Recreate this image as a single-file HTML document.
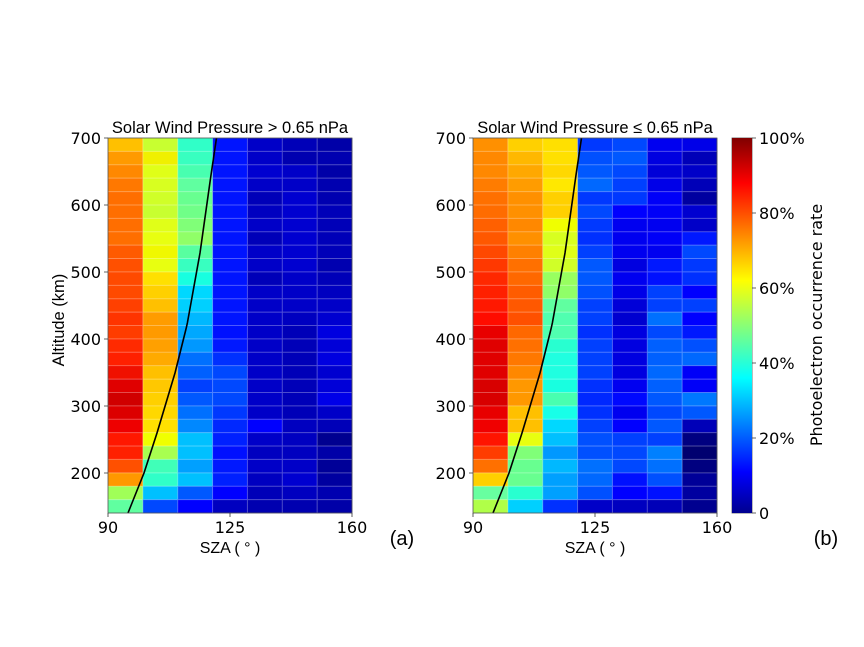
<!DOCTYPE html>
<html><head><meta charset="utf-8"><style>body{margin:0;background:#fff}svg{display:block}</style></head>
<body>
<svg id="s" width="864" height="647" xmlns="http://www.w3.org/2000/svg" font-family="DejaVu Sans, sans-serif">
<defs>
<linearGradient id="jet" x1="0" y1="1" x2="0" y2="0">
<stop offset="0" stop-color="#00008F"/><stop offset="0.11" stop-color="#0000FF"/><stop offset="0.36" stop-color="#00FFFF"/><stop offset="0.62" stop-color="#FFFF00"/><stop offset="0.88" stop-color="#FF0000"/><stop offset="1" stop-color="#800000"/>
</linearGradient>
</defs>
<g id="L"></g><g id="R"></g>
<path id="c1" fill="none" stroke="#000" stroke-width="1.6"/>
<path id="c2" fill="none" stroke="#000" stroke-width="1.6"/>
<g fill="none" stroke="#555" stroke-width="0.8">
<rect x="108" y="138" width="244" height="375"/><rect x="473" y="138" width="244" height="375"/><rect x="732" y="138" width="20" height="375"/>
</g>
<rect x="732" y="138" width="20" height="375" fill="url(#jet)"/>
<g stroke="#333" stroke-width="0.8">
<path d="M104,138h4M104,205h4M104,272h4M104,339h4M104,406h4M104,473h4M108,513v4M230,513v4M352,513v4"/>
<path d="M469,138h4M469,205h4M469,272h4M469,339h4M469,406h4M469,473h4M473,513v4M595,513v4M717,513v4"/>
<path d="M752,138h4M752,213h4M752,288h4M752,363h4M752,438h4M752,513h4"/>
</g>
<g font-size="16" fill="#000" text-anchor="end">
<text x="101" y="144">700</text><text x="101" y="211">600</text><text x="101" y="278">500</text><text x="101" y="345">400</text><text x="101" y="412">300</text><text x="101" y="479">200</text>
<text x="466" y="144">700</text><text x="466" y="211">600</text><text x="466" y="278">500</text><text x="466" y="345">400</text><text x="466" y="412">300</text><text x="466" y="479">200</text>
</g>
<g font-size="16" fill="#000" text-anchor="middle">
<text x="108" y="533">90</text><text x="230" y="533">125</text><text x="352" y="533">160</text>
<text x="473" y="533">90</text><text x="595" y="533">125</text><text x="717" y="533">160</text>
<text x="230" y="553" font-family="Liberation Sans, sans-serif" font-size="16">SZA ( ° )</text>
<text x="595" y="553" font-family="Liberation Sans, sans-serif" font-size="16">SZA ( ° )</text>
<text x="230" y="133" font-family="Liberation Sans, sans-serif" font-size="16.5">Solar Wind Pressure &gt; 0.65 nPa</text>
<text x="595" y="133" font-family="Liberation Sans, sans-serif" font-size="16.5">Solar Wind Pressure  ≤  0.65 nPa</text>
</g>
<text x="64" y="320" font-family="Liberation Sans, sans-serif" font-size="16.5" text-anchor="middle" transform="rotate(-90 64 320)">Altitude (km)</text>
<g font-size="16" fill="#000">
<text x="759" y="144">100%</text><text x="759" y="219">80%</text><text x="759" y="294">60%</text><text x="759" y="369">40%</text><text x="759" y="444">20%</text><text x="759" y="519">0</text>
</g>
<text x="822" y="325" font-size="16" text-anchor="middle" transform="rotate(-90 822 325)">Photoelectron occurrence rate</text>
<text x="402" y="545" font-family="Liberation Sans, sans-serif" font-size="20" text-anchor="middle">(a)</text>
<text x="826" y="545" font-family="Liberation Sans, sans-serif" font-size="20" text-anchor="middle">(b)</text>
</svg>
<script>
var Lc=[
"FFC000 FF9A00 FF8800 FF7800 FF6E00 FF6E00 FF6E00 FF6E00 FF5A00 FF5000 FF4A00 FF4A00 FF4000 FF3400 FF3C00 FF2A00 FF2000 F01000 E00000 D00000 DC0000 EE0000 FF1800 FF2000 FF5000 FF9800 A0FF58 60FFA0",
"C8FF30 F0F000 E0FF18 D8FF20 D0FF28 C8FF30 E0FF18 E8FF10 F0F800 E8FF10 FFE000 FFD000 FFC000 FF9C00 FF9A00 FFA000 FFAA00 FFC000 FFC800 FFD000 FFD800 FFE000 F0FF00 A8FF50 40FFB8 30FFC8 00C0FF 0048FF",
"30FFC8 38FFC0 48FFB0 60FFA0 68FF90 70FF88 80FF78 90FF68 58FFA0 38FFC0 18FFE0 00D8FF 00D0FF 00B8FF 00A8FF 0098FF 0070FF 0060FF 0040FF 0058FF 0070FF 0088FF 00C0FF 00C0FF 00A0FF 00C0FF 0058FF 0000FF",
"0014FF 0014FF 0014FF 0014FF 0014FF 0014FF 0014FF 0014FF 0014FF 0014FF 0014FF 0014FF 0014FF 0014FF 0010FF 0018FF 0030FF 0048FF 0048FF 0048FF 0038FF 0028FF 0020FF 0010FF 0018FF 0020FF 0000FF 0000C0",
"0000C8 0000C8 0000D0 0000C8 0000B8 0000C0 0000C8 0000B8 0000C8 0000C8 0000B8 0000C8 0000C8 0000C8 0000C8 0000C8 0000C8 0000C8 0000C8 0000C8 0000C8 0000FF 0000C8 0000C0 0000C8 0000C0 0000B8 0000B0",
"0000B8 0000B0 0000C8 0000C8 0000D0 0000D0 0000D0 0000D0 0000D0 0000D0 0000C8 0000C8 0000C8 0000C0 0000B8 0000B8 0000B8 0000B8 0000B8 0000B8 0000B8 0000C0 0000C0 0000C0 0000C8 0000D0 0000C0 0000B0",
"0000A8 0000B0 0000A8 0000B0 0000B0 0000B8 0000B8 0000B8 0000B8 0000B0 0000B8 0000C0 0000C8 0000D0 0000E0 0000D8 0000E0 0000D0 0000D8 0000E8 0000C8 0000B8 000090 0000A8 000098 0000A0 0000B0 0000A8"];
var Rc=[
"FF9000 FF8800 FF8800 FF7C00 FF7000 FF6C00 FF6000 FF5800 FF4800 FF3800 FF2800 FF2000 FF1800 FF0C00 E80000 E00000 E00000 E00000 D80000 D80000 E80000 F00000 FF1400 FF3C00 FF7000 FFD000 68FFA0 B0FF48",
"FFD000 FFB800 FFA800 FF9C00 FF9000 FF9000 FF8800 FF9000 FF8000 FF7000 FF6800 FF5C00 FF5800 FF5000 FF6800 FF7000 FF7800 FF8800 FF9800 FF9800 FFC000 FFC000 E8FF10 80FF78 68FF90 68FF90 28FFD0 00D0FF",
"FFE000 FFE000 FFD800 FFE800 FFD000 FFD000 F0FF00 D8FF20 E0FF18 D0FF28 98FF60 90FF68 60FFA0 50FFB0 50FFB0 28FFD0 20FFE0 20FFE0 18FFE0 48FFB0 18FFE8 00D8FF 00C0FF 0098FF 00B8FF 00A0FF 00A0FF 0030FF",
"0038FF 0050FF 0058FF 0068FF 0038FF 0048FF 0038FF 0030FF 0040FF 0058FF 0058FF 0050FF 0040FF 0040FF 0030FF 0040FF 0040FF 0040FF 0030FF 0028FF 0030FF 0040FF 0050FF 0050FF 0070FF 0068FF 0050FF 0000C8",
"0048FF 0058FF 0048FF 0040FF 0038FF 0000FF 0000F0 0000F0 0000F0 0000E0 0000F0 0000E8 0000D8 0000D0 0000E0 0000E0 0000E0 0000E0 0000F0 0008FF 0000F0 0000FF 0040FF 0048FF 0048FF 0010FF 0000FF 0000C0",
"0000F0 0000E0 0000D8 0000E8 0000F8 0000F8 0000F0 0000F8 0000F0 0018FF 0010FF 0040FF 0040FF 0070FF 0048FF 0060FF 0060FF 0068FF 0060FF 0058FF 0048FF 0058FF 0040FF 0080FF 0070FF 0050FF 0010FF 0000B8",
"0000E8 0000B8 0000C8 0000B8 0000A0 0000D0 0000C8 0018FF 0048FF 0038FF 0030FF 0000FF 0040FF 0000FF 0018FF 0050FF 0068FF 0000F8 0000F8 0078FF 0058FF 0000B8 000080 000070 000080 000098 0000A0 000090"];
function draw(id,x0,cols){var g=document.getElementById(id),h='',w=244/7,rh=375/28;
for(var c=0;c<7;c++){var a=cols[c].split(' ');for(var r=0;r<28;r++){h+='<rect x="'+(x0+c*w).toFixed(2)+'" y="'+(138+r*rh).toFixed(2)+'" width="'+(w+0.3).toFixed(2)+'" height="'+(rh+0.3).toFixed(2)+'" fill="#'+a[r]+'"/>';}}
var l='';for(var c=1;c<7;c++){l+='M'+(x0+c*w).toFixed(2)+',138v375';}for(var r=1;r<28;r++){l+='M'+x0+','+(138+r*rh).toFixed(2)+'h244';}
h+='<path d="'+l+'" stroke="#fff" stroke-opacity="0.3" stroke-width="1"/>';g.innerHTML=h;}
draw('L',108,Lc);draw('R',473,Rc);
/* smooth curve: x as function of d=513-y */
var P=[[0,128],[40,144],[80,157],[140,175],[188,187],[260,200],[338,211],[375,216.5]];
function X(d){for(var i=0;i<P.length-1;i++){if(d<=P[i+1][0]){var t=(d-P[i][0])/(P[i+1][0]-P[i][0]);return P[i][1]+t*(P[i+1][1]-P[i][1]);}}return P[P.length-1][1];}
function curve(off){var s='';for(var d=0;d<=375;d+=5){s+=(d?'L':'M')+(X(d)+off).toFixed(2)+','+(513-d);}return s;}
document.getElementById('c1').setAttribute('d',curve(0));
document.getElementById('c2').setAttribute('d',curve(365));
</script>
</body></html>
